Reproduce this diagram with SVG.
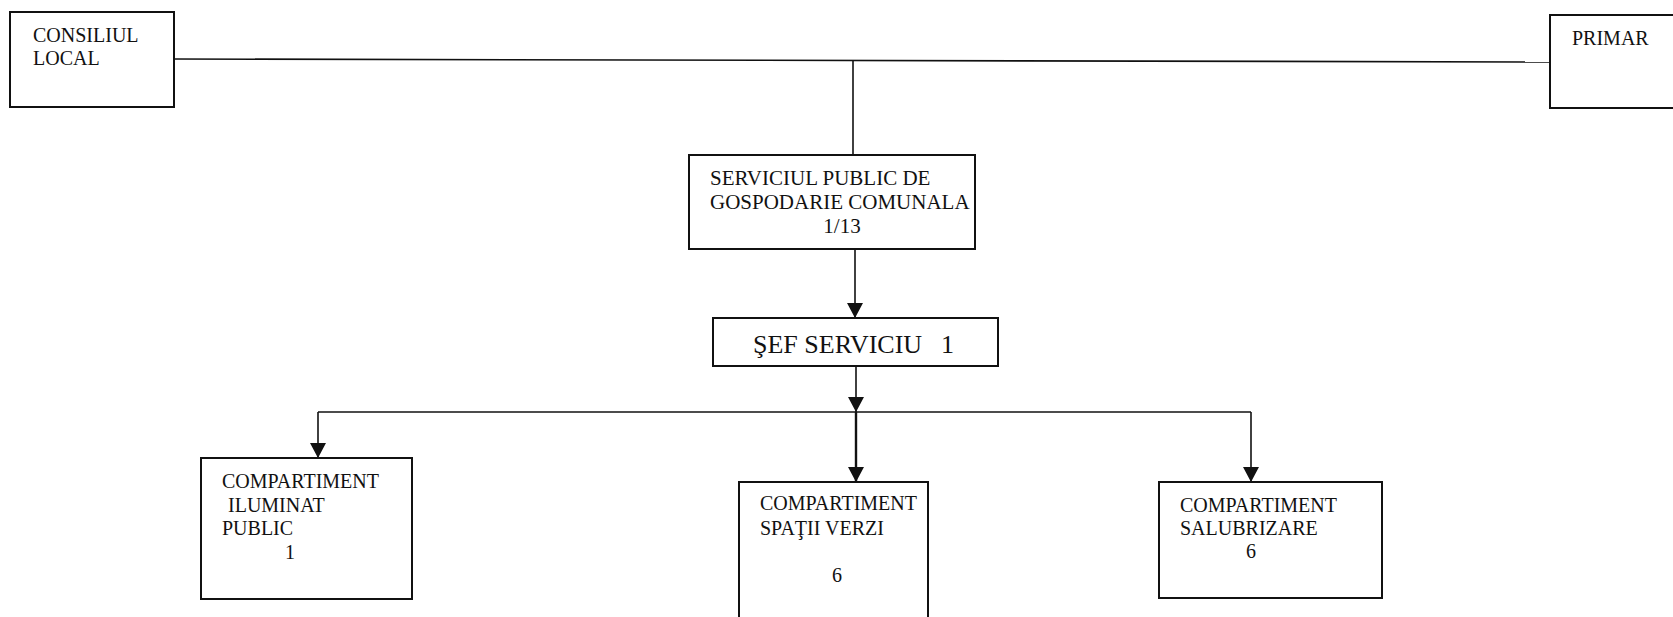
<svg xmlns="http://www.w3.org/2000/svg" width="1673" height="617" viewBox="0 0 1673 617">
<style>
.box{fill:#fff;stroke:#111;stroke-width:2}
.t{font-family:"Liberation Serif","Times New Roman",serif;font-size:20px;fill:#111}
.line{stroke:#111;stroke-width:1.6;fill:none}
</style>
<defs>
<marker id="ah" markerUnits="userSpaceOnUse" markerWidth="16" markerHeight="16" refX="15" refY="8" orient="auto">
<path d="M0,0 L15,8 L0,16 Z" fill="#111"/>
</marker>
</defs>
<rect width="1673" height="617" fill="#fff"/>
<g id="connectors">
<line class="line" x1="174" y1="59" x2="1550" y2="62"/>
<line class="line" x1="853" y1="60" x2="853" y2="155"/>
<line class="line" x1="855" y1="249" x2="855" y2="318" marker-end="url(#ah)"/>
<line class="line" x1="856" y1="366" x2="856" y2="412" marker-end="url(#ah)"/>
<line class="line" x1="318" y1="412" x2="1251" y2="412"/>
<line class="line" x1="318" y1="412" x2="318" y2="458" marker-end="url(#ah)"/>
<line class="line" style="stroke-width:2.4" x1="856" y1="412" x2="856" y2="482" marker-end="url(#ah)"/>
<line class="line" x1="1251" y1="412" x2="1251" y2="482" marker-end="url(#ah)"/>
</g>
<g id="consiliul-local">
<rect class="box" x="10" y="12" width="164" height="95"/>
<text class="t" x="33" y="42">CONSILIUL</text>
<text class="t" x="33" y="65">LOCAL</text>
</g>
<g id="primar">
<rect class="box" x="1550" y="15" width="140" height="93"/>
<text class="t" x="1572" y="45">PRIMAR</text>
</g>
<g id="serviciul-public">
<rect class="box" x="689" y="155" width="286" height="94"/>
<text class="t" x="710" y="185" style="font-size:21px">SERVICIUL PUBLIC DE</text>
<text class="t" x="710" y="209" style="font-size:21px">GOSPODARIE COMUNALA</text>
<text class="t" x="842" y="233" text-anchor="middle" style="font-size:21px">1/13</text>
</g>
<g id="sef-serviciu">
<rect class="box" x="713" y="318" width="285" height="48"/>
<text class="t" x="753" y="353" style="font-size:26px">ŞEF SERVICIU</text>
<text class="t" x="941" y="353" style="font-size:26px">1</text>
</g>
<g id="iluminat-public">
<rect class="box" x="201" y="458" width="211" height="141"/>
<text class="t" x="222" y="488">COMPARTIMENT</text>
<text class="t" x="228" y="512">ILUMINAT</text>
<text class="t" x="222" y="535">PUBLIC</text>
<text class="t" x="290" y="559" text-anchor="middle">1</text>
</g>
<g id="spatii-verzi">
<rect class="box" x="739" y="482" width="189" height="140"/>
<text class="t" x="760" y="510">COMPARTIMENT</text>
<text class="t" x="760" y="535">SPAŢII VERZI</text>
<text class="t" x="837" y="582" text-anchor="middle">6</text>
</g>
<g id="salubrizare">
<rect class="box" x="1159" y="482" width="223" height="116"/>
<text class="t" x="1180" y="512">COMPARTIMENT</text>
<text class="t" x="1180" y="535">SALUBRIZARE</text>
<text class="t" x="1251" y="558" text-anchor="middle">6</text>
</g>
</svg>
